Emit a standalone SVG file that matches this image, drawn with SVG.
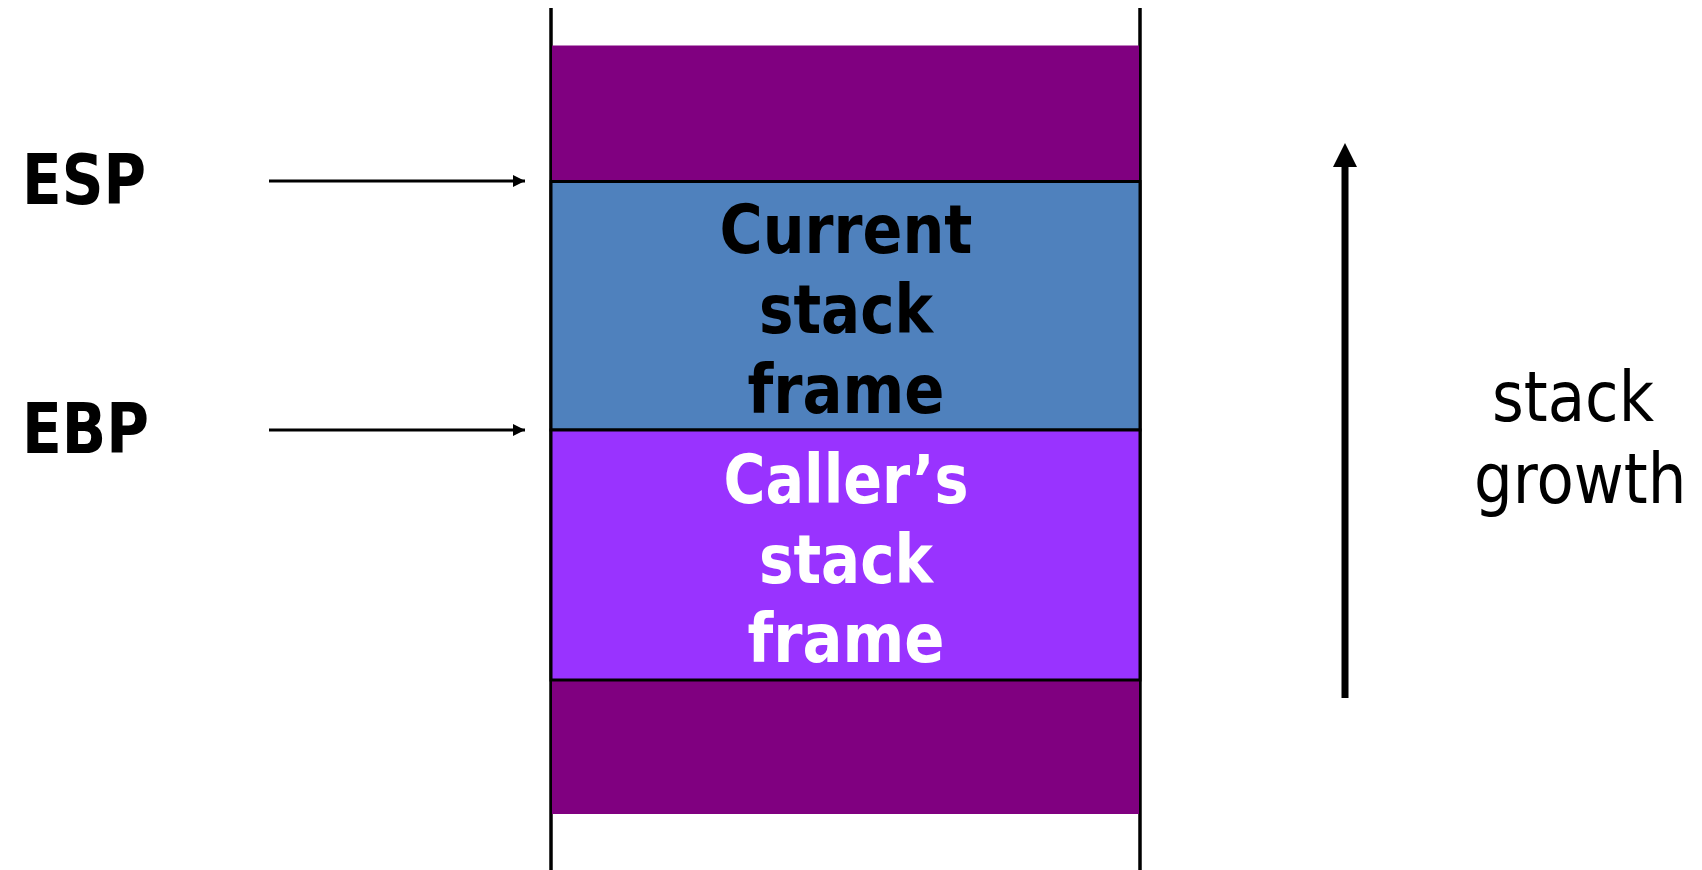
<svg xmlns="http://www.w3.org/2000/svg" width="1702" height="870" viewBox="0 0 1702 870">
<defs>
<style>
.bold{font-family:"DejaVu Sans","Liberation Sans",sans-serif;font-weight:bold;}
.reg{font-family:"DejaVu Sans","Liberation Sans",sans-serif;font-weight:normal;}
.box{font-size:68px;text-anchor:middle;}
.reglabel{font-size:70px;fill:#000;}
.wall{stroke:#000;stroke-width:3.5;fill:none;}
.frame{stroke:#000;stroke-width:3;}
.ptr{stroke:#000;stroke-width:2.8;fill:none;}
</style>
<marker id="ah" markerUnits="userSpaceOnUse" markerWidth="14" markerHeight="14" refX="12" refY="7" orient="auto">
<path d="M0,1 L12,7 L0,13 Z" fill="#000"/>
</marker>
</defs>
<rect width="1702" height="870" fill="#fff"/>
<g id="stack-walls">
<line class="wall" x1="551" y1="8" x2="551" y2="870"/>
<line class="wall" x1="1140" y1="8" x2="1140" y2="870"/>
</g>
<g id="top-region">
<rect x="552" y="45.5" width="587" height="136" fill="#800080"/>
</g>
<g id="bottom-region">
<rect x="552" y="680" width="587" height="134" fill="#800080"/>
</g>
<g id="current-frame">
<rect class="frame" x="551" y="181.5" width="589" height="248.5" fill="#4F81BD"/>
<text class="bold box" x="846" y="253" textLength="253" lengthAdjust="spacingAndGlyphs" fill="#000">Current</text>
<text class="bold box" x="846" y="333" textLength="174" lengthAdjust="spacingAndGlyphs" fill="#000">stack</text>
<text class="bold box" x="846" y="413" textLength="197" lengthAdjust="spacingAndGlyphs" fill="#000">frame</text>
</g>
<g id="caller-frame">
<rect class="frame" x="551" y="430" width="589" height="250" fill="#9933FF"/>
<text class="bold box" x="846" y="503" textLength="245" lengthAdjust="spacingAndGlyphs" fill="#fff">Caller’s</text>
<text class="bold box" x="846" y="583" textLength="174" lengthAdjust="spacingAndGlyphs" fill="#fff">stack</text>
<text class="bold box" x="846" y="662" textLength="197" lengthAdjust="spacingAndGlyphs" fill="#fff">frame</text>
</g>
<g id="esp">
<text class="bold" x="22" y="204" font-size="70" textLength="124" lengthAdjust="spacingAndGlyphs" fill="#000">ESP</text>
</g>
<g id="ebp">
<text class="bold" x="22" y="453" font-size="70" textLength="127" lengthAdjust="spacingAndGlyphs" fill="#000">EBP</text>
</g>
<g id="growth-label">
<text class="reg reglabel" transform="translate(1492,421) scale(0.872,1)">stack</text>
<text class="reg reglabel" transform="translate(1474,503) scale(0.872,1)">growth</text>
</g>
<g id="connectors">
<line class="ptr" x1="269" y1="181" x2="525" y2="181" marker-end="url(#ah)"/>
<line class="ptr" x1="269" y1="430" x2="525" y2="430" marker-end="url(#ah)"/>
<line x1="1345" y1="698" x2="1345" y2="160" stroke="#000" stroke-width="7"/>
<polygon points="1345,143 1333,167 1357,167" fill="#000"/>
</g>
</svg>
